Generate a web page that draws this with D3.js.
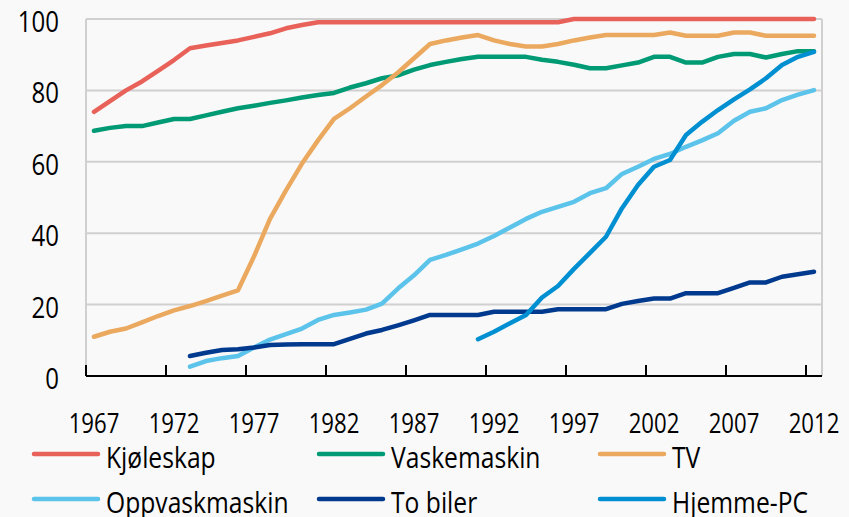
<!DOCTYPE html>
<html>
<head>
<meta charset="utf-8">
<script src="https://cdn.jsdelivr.net/npm/d3@7"></script>
<style>
  body { margin: 0; background: #f9f9f9; }
  svg { display: block; }
  text { font-family: 'Open Sans', 'Noto Sans', sans-serif; fill: #000; }
</style>
</head>
<body>
<svg width="849" height="517"></svg>
<script>
const years = d3.range(1967, 2013);
const tickYears = [1967, 1972, 1977, 1982, 1987, 1992, 1997, 2002, 2007, 2012];
const yTicks = [0, 20, 40, 60, 80, 100];

const kjoleskap = [74, 77, 80, 82.5, 85.5, 88.5, 91.8, 92.6, 93.3, 94, 95, 96, 97.4, 98.3, 99.1,
  99.1, 99.1, 99.1, 99.1, 99.1, 99.1, 99.1, 99.1, 99.1, 99.1, 99.1, 99.1, 99.1, 99.1, 99.1,
  100, 100, 100, 100, 100, 100, 100, 100, 100, 100, 100, 100, 100, 100, 100, 100];
const vaskemaskin = [68.7, 69.5, 70, 70, 71, 72, 72, 73, 74, 75, 75.7, 76.5, 77.2, 78, 78.7,
  79.3, 80.8, 82, 83.4, 84.2, 85.8, 87.1, 88, 88.8, 89.4, 89.4, 89.4, 89.4, 88.6, 88,
  87.2, 86.2, 86.2, 87, 87.8, 89.4, 89.4, 87.8, 87.8, 89.4, 90.2, 90.2, 89.2, 90.2, 91, 91];
const tv = [11, 12.4, 13.3, 15, 16.8, 18.4, 19.6, 21, 22.5, 24, 33.5, 44, 52, 59.5, 66,
  72, 75, 78.3, 81.5, 85, 89, 93, 94, 94.8, 95.5, 94, 93, 92.3, 92.3, 93,
  94, 94.8, 95.5, 95.5, 95.5, 95.5, 96.2, 95.3, 95.3, 95.3, 96.2, 96.2, 95.3, 95.3, 95.3, 95.3];
const oppvaskmaskin = [null, null, null, null, null, null, 2.6, 4.2, 5, 5.6, 8, 10.2, 11.7, 13.3, 15.7,
  17.1, 17.8, 18.6, 20.3, 24.5, 28.2, 32.5, 33.9, 35.5, 37.1, 39.2, 41.6, 44, 46, 47.4,
  48.8, 51.2, 52.6, 56.6, 58.6, 60.8, 62.2, 64.2, 66, 68, 71.5, 74, 75, 77.3, 78.8, 80.1];
const toBiler = [null, null, null, null, null, null, 5.6, 6.5, 7.3, 7.5, 8, 8.7, 8.8, 8.9, 8.9,
  8.9, 10.4, 11.9, 12.9, 14.2, 15.6, 17.1, 17.1, 17.1, 17.1, 18, 18, 18, 18, 18.7,
  18.7, 18.7, 18.7, 20.2, 21, 21.7, 21.7, 23.2, 23.2, 23.2, 24.7, 26.2, 26.2, 27.8, 28.5, 29.2];
const hjemmePC = [null, null, null, null, null, null, null, null, null, null, null, null, null, null, null,
  null, null, null, null, null, null, null, null, null, 10.3, 12.4, 14.8, 17.1, 22, 25.2,
  30, 34.5, 39, 47, 53.5, 58.6, 60.5, 67.5, 71.2, 74.5, 77.5, 80.3, 83.4, 87.1, 89.4, 90.8];

const seriesNames = ['Kjøleskap', 'Vaskemaskin', 'TV', 'Oppvaskmaskin', 'To biler', 'Hjemme-PC'];
const seriesValues = [kjoleskap, vaskemaskin, tv, oppvaskmaskin, toBiler, hjemmePC];
const colors = ['#e8625a', '#009a74', '#eaa95f', '#5cc3ea', '#003a8f', '#0090d2'];

const svg = d3.select('svg');
const width = +svg.attr('width');
const height = +svg.attr('height');

const margin = { top: 19, right: 27, bottom: 141, left: 86 };
const innerWidth = width - margin.left - margin.right;
const innerHeight = height - margin.top - margin.bottom;

// the reference text is narrow: squeeze glyphs with textLength
const squeeze = (sel, s) => sel.each(function () {
  const w = this.getComputedTextLength();
  d3.select(this)
      .attr('textLength', w * s)
      .attr('lengthAdjust', 'spacingAndGlyphs');
});

svg.append('rect')
    .attr('width', width)
    .attr('height', height)
    .attr('fill', '#f9f9f9');

const xScale = d3.scaleBand()
    .domain(years)
    .range([0, innerWidth]);
const xCenter = y => xScale(y) + xScale.bandwidth() / 2;

const yScale = d3.scaleLinear()
    .domain([0, 100])
    .range([innerHeight, 0]);

const g = svg.append('g')
    .attr('transform', `translate(${margin.left}, ${margin.top})`);

// grid lines
g.selectAll('.grid').data(yTicks.filter(d => d > 0))
  .enter().append('line')
    .attr('x1', 0)
    .attr('x2', innerWidth)
    .attr('y1', d => yScale(d))
    .attr('y2', d => yScale(d))
    .attr('stroke', '#d0d0d0')
    .attr('stroke-width', 2);

// side frame lines
[0, innerWidth].forEach(x => {
  g.append('line')
      .attr('x1', x).attr('x2', x)
      .attr('y1', 0).attr('y2', innerHeight)
      .attr('stroke', '#d0d0d0')
      .attr('stroke-width', 2);
});

// y labels
g.selectAll('.ylabel').data(yTicks)
  .enter().append('text')
    .attr('x', -27)
    .attr('y', d => yScale(d) + 13)
    .attr('text-anchor', 'end')
    .attr('font-size', 30)
    .text(d => d)
    .call(squeeze, 0.8);

// x axis: labels centered on years, ticks between categories pointing up
const xAxisG = g.append('g')
    .attr('transform', `translate(0, ${innerHeight})`);

xAxisG.append('line')
    .attr('x1', 0)
    .attr('x2', innerWidth)
    .attr('stroke', '#000')
    .attr('stroke-width', 2);

xAxisG.selectAll('.tick').data(tickYears)
  .enter().append('line')
    .attr('x1', d => xScale(d))
    .attr('x2', d => xScale(d))
    .attr('y1', 0)
    .attr('y2', -11)
    .attr('stroke', '#000')
    .attr('stroke-width', 2);

xAxisG.selectAll('text').data(tickYears)
  .enter().append('text')
    .attr('x', d => xCenter(d))
    .attr('y', 57)
    .attr('text-anchor', 'middle')
    .attr('font-size', 27)
    .text(d => d)
    .call(squeeze, 0.82);

// lines
const line = d3.line()
    .defined(d => d.v != null)
    .x(d => xCenter(d.year))
    .y(d => yScale(d.v));

seriesValues.forEach((vals, i) => {
  const data = years.map((year, j) => ({ year, v: vals[j] }));
  g.append('path')
      .datum(data)
      .attr('fill', 'none')
      .attr('stroke', colors[i])
      .attr('stroke-width', 4.5)
      .attr('stroke-linejoin', 'round')
      .attr('stroke-linecap', 'round')
      .attr('d', line);
});

// legend
const legendCols = [32, 317, 598];
const legendRows = [454, 499];
seriesNames.forEach((name, i) => {
  const lx = legendCols[i % 3];
  const ly = legendRows[Math.floor(i / 3)];
  svg.append('line')
      .attr('x1', lx + 2).attr('x2', lx + 66)
      .attr('y1', ly).attr('y2', ly)
      .attr('stroke', colors[i])
      .attr('stroke-width', 4.5)
      .attr('stroke-linecap', 'round');
  svg.append('text')
      .attr('x', lx + 74)
      .attr('y', ly + 14)
      .attr('font-size', 29)
      .text(name)
      .call(squeeze, 0.85);
});
</script>
</body>
</html>
